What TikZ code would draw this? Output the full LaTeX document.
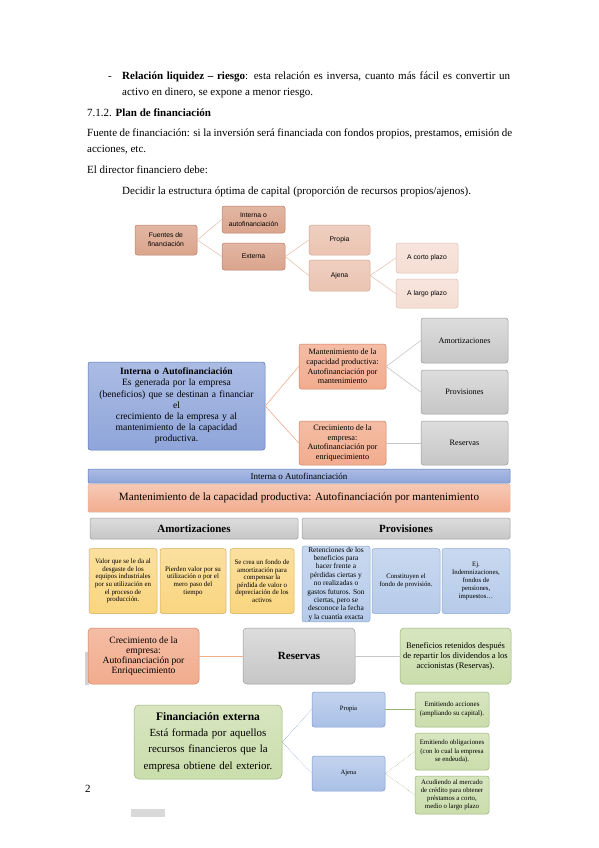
\documentclass[tikz,border=0pt]{standalone}
\usepackage{fontspec}
\setmainfont{Liberation Serif}
\newfontfamily\sansf{Liberation Sans}
\definecolor{salA}{HTML}{DBA48C}
\definecolor{salAe}{HTML}{B98068}
\definecolor{salB}{HTML}{EBC3B1}
\definecolor{salC}{HTML}{F5DED4}
\definecolor{salL}{HTML}{E9BCA7}
\definecolor{org}{HTML}{F2AC8E}
\definecolor{orge}{HTML}{C98466}
\definecolor{bluA}{HTML}{8FA5DA}
\definecolor{bluAe}{HTML}{5C78BC}
\definecolor{gryA}{HTML}{C6C6C6}
\definecolor{gryAe}{HTML}{9C9C9C}
\definecolor{yel}{HTML}{F9D57F}
\definecolor{yele}{HTML}{D6AE5A}
\definecolor{lbl}{HTML}{B6CBEA}
\definecolor{lble}{HTML}{8EA8D6}
\definecolor{grn}{HTML}{CADDAB}
\definecolor{grne}{HTML}{98B478}
\definecolor{bl2}{HTML}{A9C0E6}
\definecolor{bl2e}{HTML}{7F9BCF}
\tikzset{
  bx/.style={rounded corners=2.5pt, draw, line width=0.5pt, align=center, inner sep=1pt},
  sal1/.style={bx, draw=salAe, top color=salA!80, bottom color=salA, font=\sansf\fontsize{6.8}{9}\selectfont},
  sal2/.style={bx, draw=salAe!70, top color=salB!80, bottom color=salB, font=\sansf\fontsize{6.8}{9}\selectfont},
  sal3/.style={bx, draw=salAe!50, top color=salC!80, bottom color=salC, font=\sansf\fontsize{6.8}{9}\selectfont},
  orbox/.style={bx, draw=orge, top color=org!80, bottom color=org},
  blbox/.style={bx, draw=bluAe, top color=bluA!75, bottom color=bluA},
  grbox/.style={bx, draw=gryAe, top color=gryA!60, bottom color=gryA},
  ylbox/.style={bx, draw=yele, top color=yel!75, bottom color=yel, font=\fontsize{6.9}{7.6}\selectfont},
  lbbox/.style={bx, draw=lble, top color=lbl!75, bottom color=lbl, font=\fontsize{6.8}{8}\selectfont},
  gnbox/.style={bx, draw=grne, top color=grn!75, bottom color=grn},
  b2box/.style={bx, draw=bl2e, top color=bl2!70, bottom color=bl2, font=\fontsize{6.6}{8}\selectfont},
  body/.style={anchor=base west, inner sep=0pt, font=\fontsize{11}{13}\selectfont},
  lnS/.style={draw=salL, line width=0.5pt},
  lnO/.style={draw=org, line width=0.6pt},
  lnG/.style={draw=gryA, line width=0.6pt},
  lnB/.style={draw=bl2e, line width=0.5pt, densely dotted},
  lnN/.style={draw=grne, line width=0.6pt},
  lnNd/.style={draw=grne, line width=0.5pt, densely dotted},
}
\begin{document}
\begin{tikzpicture}[x=1pt,y=-1pt]
\useasboundingbox[fill=white] (0,0) rectangle (599,848);
% ---------- body text ----------
\node[body] (dash) at (108,80) {-};
\node[body] (p1a) at (122,80) {\makebox[388pt][s]{\textbf{Relación liquidez – riesgo}: esta relación es inversa, cuanto más fácil es convertir un}};
\node[body] (p1b) at (122,96) {activo en dinero, se expone a menor riesgo.};
\node[body] (h1) at (87,117) {7.1.2. \textbf{Plan de financiación}};
\node[body] (p2a) at (87,136) {\makebox[425pt][s]{Fuente de financiación: si la inversión será financiada con fondos propios, prestamos, emisión de}};
\node[body] (p2b) at (87,152) {acciones, etc.};
\node[body] (p3) at (87,173) {El director financiero debe:};
\node[body] (p4) at (122,194) {Decidir la estructura óptima de capital (proporción de recursos propios/ajenos).};
% ---------- diagram 1 ----------
\node[sal1, minimum width=62pt, minimum height=30pt] (fue) at (166,240) {Fuentes de\\financiación};
\node[sal1, minimum width=63pt, minimum height=27pt] (int) at (253.5,219.5) {Interna o\\autofinanciación};
\node[sal1, minimum width=63pt, minimum height=27pt] (ext) at (253.5,256.5) {Externa};
\node[sal2, minimum width=61pt, minimum height=30pt] (pro) at (339.5,240) {Propia};
\node[sal2, minimum width=61pt, minimum height=31pt] (aje) at (339.5,275.5) {Ajena};
\node[sal3, minimum width=62pt, minimum height=30pt] (cor) at (427,258) {A corto plazo};
\node[sal3, minimum width=62pt, minimum height=29pt] (lar) at (427,293.5) {A largo plazo};
\draw[lnS] (fue.east) -- (int.west);
\draw[lnS] (fue.east) -- (ext.west);
\draw[lnS] (ext.east) -- (pro.west);
\draw[lnS] (ext.east) -- (aje.west);
\draw[lnS] (aje.east) -- (cor.west);
\draw[lnS] (aje.east) -- (lar.west);
% ---------- diagram 2 ----------
\node[blbox, minimum width=177pt, minimum height=88pt, text width=175pt, font=\fontsize{9.6}{11.2}\selectfont] (iaf) at (176.5,406) {\textbf{Interna o Autofinanciación}\\Es generada por la empresa\\(beneficios) que se destinan a financiar\\el\\crecimiento de la empresa y al\\mantenimiento de la capacidad\\productiva.};
\node[orbox, minimum width=87pt, minimum height=45pt, font=\fontsize{8.2}{9.6}\selectfont] (man) at (342.5,366.5) {Mantenimiento de la\\capacidad productiva:\\Autofinanciación por\\mantenimiento};
\node[orbox, minimum width=87pt, minimum height=44pt, font=\fontsize{8.2}{9.6}\selectfont] (cre) at (342.5,443) {Crecimiento de la\\empresa:\\Autofinanciación por\\enriquecimiento};
\node[grbox, minimum width=87pt, minimum height=45pt, font=\fontsize{8.2}{9.6}\selectfont] (amo) at (464.5,340.5) {Amortizaciones};
\node[grbox, minimum width=87pt, minimum height=44pt, font=\fontsize{8.2}{9.6}\selectfont] (prv) at (464.5,392) {Provisiones};
\node[grbox, minimum width=87pt, minimum height=44pt, font=\fontsize{8.2}{9.6}\selectfont] (res) at (464.5,443) {Reservas};
\draw[lnO] (iaf.east) -- (man.west);
\draw[lnO] (iaf.east) -- (cre.west);
\draw[lnG] (man.east) -- (amo.west);
\draw[lnG] (man.east) -- (prv.west);
\draw[lnG] (cre.east) -- (res.west);
% ---------- diagram 3 ----------
\node[bx, rounded corners=1pt, draw=bluAe, top color=bluA!75, bottom color=bluA, minimum width=422pt, minimum height=14pt, font=\fontsize{9}{10}\selectfont] (hdr) at (299,476) {Interna o Autofinanciación};
\node[bx, rounded corners=1pt, draw=orge!60, top color=org!65, bottom color=org, minimum width=422pt, minimum height=28pt, font=\fontsize{11.1}{12}\selectfont] (mnt) at (299,498) {Mantenimiento de la capacidad productiva: Autofinanciación por mantenimiento};
\node[grbox, rounded corners=1.5pt, minimum width=208pt, minimum height=21pt, font=\bfseries\fontsize{11}{12}\selectfont] (amh) at (194,528.5) {Amortizaciones};
\node[grbox, rounded corners=1.5pt, minimum width=208pt, minimum height=21pt, font=\bfseries\fontsize{11}{12}\selectfont] (prh) at (406,528.5) {Provisiones};
\node[ylbox, minimum width=68pt, minimum height=65pt] (y1) at (123,581) {Valor que se le da al\\desgaste de los\\equipos industriales\\por su utilización en\\el proceso de\\producción.};
\node[ylbox, minimum width=66pt, minimum height=65pt] (y2) at (193,581) {Pierden valor por su\\utilización o por el\\mero paso del\\tiempo};
\node[ylbox, minimum width=64pt, minimum height=65pt] (y3) at (262,581) {Se crea un fondo de\\amortización para\\compensar la\\pérdida de valor o\\depreciación de los\\activos};
\node[lbbox, minimum width=68pt, minimum height=65pt, font=\fontsize{7.4}{8.4}\selectfont] (b1) at (336,584) {Retenciones de los\\beneficios para\\hacer frente a\\pérdidas ciertas y\\no realizadas o\\gastos futuros. Son\\ciertas, pero se\\desconoce la fecha\\y la cuantía exacta};
\node[lbbox, minimum width=68pt, minimum height=65pt] (b2) at (406,581) {Constituyen el\\fondo de provisión.};
\node[lbbox, minimum width=68pt, minimum height=65pt] (b3) at (476,581) {Ej.\\Indemnizaciones,\\fondos de\\pensiones,\\impuestos…};
% ---------- reservas row ----------
\fill[gray!35] (85,652) rectangle (89,685);
\node[orbox, rounded corners=4pt, minimum width=111pt, minimum height=56pt, font=\fontsize{9.6}{10.2}\selectfont] (cr2) at (143.5,656) {Crecimiento de la\\empresa:\\Autofinanciación por\\Enriquecimiento};
\node[grbox, rounded corners=4pt, minimum width=112pt, minimum height=56pt, font=\bfseries\fontsize{11}{12}\selectfont] (rs2) at (299,656) {Reservas};
\node[gnbox, rounded corners=4pt, minimum width=111pt, minimum height=56pt, font=\fontsize{8.5}{10}\selectfont] (ben) at (455.5,656) {Beneficios retenidos después\\de repartir los dividendos a los\\accionistas (Reservas).};
\draw[lnO] (cr2.east) -- (rs2.west);
\draw[lnG] (rs2.east) -- (ben.west);
% ---------- financiación externa ----------
\node[gnbox, rounded corners=5pt, minimum width=148pt, minimum height=74pt, text width=146pt, font=\fontsize{10.9}{16.2}\selectfont] (fex) at (208,742) {{\fontsize{11.5}{13}\selectfont\textbf{Financiación externa}}\\Está formada por aquellos\\recursos financieros que la\\empresa obtiene del exterior.};
\node[b2box, minimum width=73pt, minimum height=35pt] (fpr) at (348.5,709.5) {Propia};
\node[b2box, minimum width=73pt, minimum height=35pt] (faj) at (348.5,773.5) {Ajena};
\node[gnbox, minimum width=74pt, minimum height=35pt, font=\fontsize{7}{8.6}\selectfont] (eac) at (452,709.5) {Emitiendo acciones\\(ampliando su capital).};
\node[gnbox, minimum width=74pt, minimum height=37pt, font=\fontsize{6.8}{8.4}\selectfont] (eob) at (452,751.5) {Emitiendo obligaciones\\(con lo cual la empresa\\se endeuda).};
\node[gnbox, minimum width=74pt, minimum height=38pt, font=\fontsize{6.8}{8}\selectfont] (acu) at (452,795) {Acudiendo al mercado\\de crédito para obtener\\préstamos a corto,\\medio o largo plazo};
\draw[lnB] (fex.east) -- (fpr.west);
\draw[lnB] (fex.east) -- (faj.west);
\draw[lnN] (fpr.east) -- (eac.west);
\draw[lnNd] (faj.east) -- (eob.west);
\draw[lnNd] (faj.east) -- (acu.west);
% ---------- page number & mark ----------
\node[body] (pg) at (85,792) {2};
\fill[gray!30] (131,809) rectangle (165,817);
\end{tikzpicture}
\end{document}
